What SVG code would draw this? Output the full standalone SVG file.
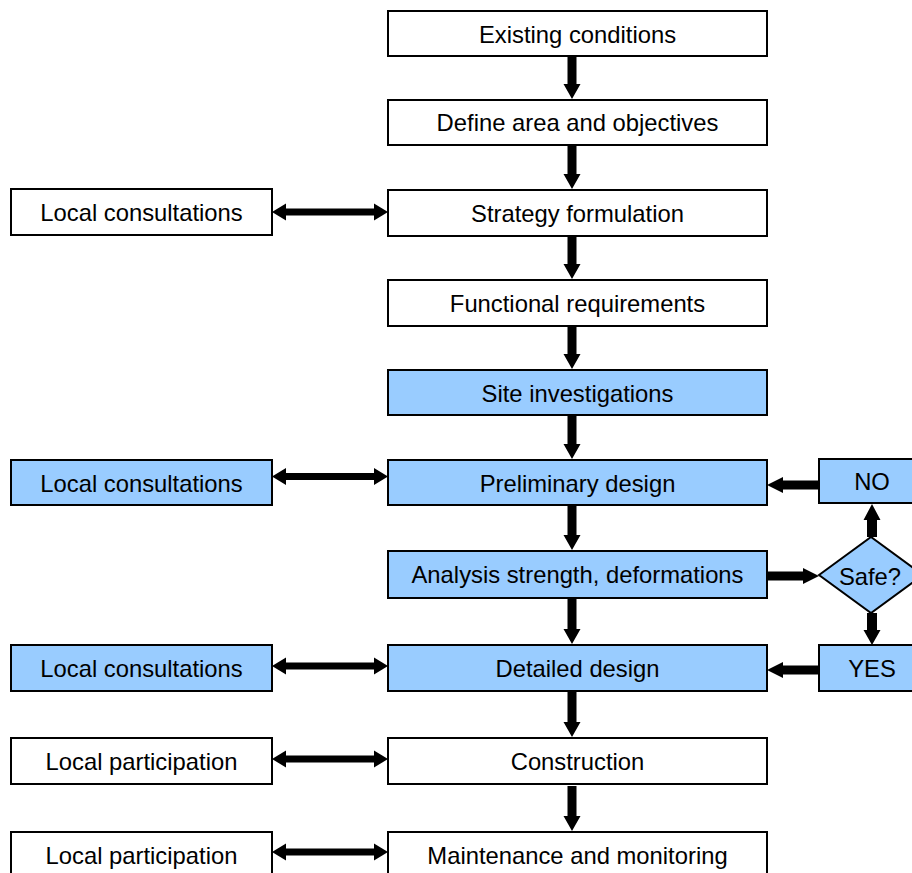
<svg xmlns="http://www.w3.org/2000/svg" width="912" height="873" viewBox="0 0 912 873">
<style>
.box{fill:#ffffff;stroke:#000000;stroke-width:2}
.blue{fill:#99ccff;stroke:#000000;stroke-width:2}
text{font-family:"Liberation Sans",Arial,sans-serif;font-size:23.8px;fill:#000000;text-anchor:middle}
.arr{fill:#000000;stroke:none}
</style>
<rect width="912" height="873" fill="#ffffff"/>
<g id="connectors">
  <polygon class="arr" points="567.5,57 576.5,57 576.5,84 580.5,84 572,99 563.5,84 567.5,84"/>
  <polygon class="arr" points="567.5,146 576.5,146 576.5,174 580.5,174 572,189 563.5,174 567.5,174"/>
  <polygon class="arr" points="567.5,237 576.5,237 576.5,264 580.5,264 572,279 563.5,264 567.5,264"/>
  <polygon class="arr" points="567.5,327 576.5,327 576.5,354 580.5,354 572,369 563.5,354 567.5,354"/>
  <polygon class="arr" points="567.5,416 576.5,416 576.5,444 580.5,444 572,459 563.5,444 567.5,444"/>
  <polygon class="arr" points="567.5,506 576.5,506 576.5,535 580.5,535 572,550 563.5,535 567.5,535"/>
  <polygon class="arr" points="567.5,599 576.5,599 576.5,629 580.5,629 572,644 563.5,629 567.5,629"/>
  <polygon class="arr" points="567.5,692 576.5,692 576.5,722 580.5,722 572,737 563.5,722 567.5,722"/>
  <polygon class="arr" points="567.5,786 576.5,786 576.5,816 580.5,816 572,831 563.5,816 567.5,816"/>
  <polygon class="arr" points="272,212 286,203.5 286,208.5 374,208.5 374,203.5 388,212 374,220.5 374,215.5 286,215.5 286,220.5"/>
  <polygon class="arr" points="272,476.5 286,468 286,473 374,473 374,468 388,476.5 374,485 374,480 286,480 286,485"/>
  <polygon class="arr" points="272,666 286,657.5 286,662.5 374,662.5 374,657.5 388,666 374,674.5 374,669.5 286,669.5 286,674.5"/>
  <polygon class="arr" points="272,759 286,750.5 286,755.5 374,755.5 374,750.5 388,759 374,767.5 374,762.5 286,762.5 286,767.5"/>
  <polygon class="arr" points="272,852 286,843.5 286,848.5 374,848.5 374,843.5 388,852 374,860.5 374,855.5 286,855.5 286,860.5"/>
  <polygon class="arr" points="819,480.5 783,480.5 783,477 767,485 783,493 783,489.5 819,489.5"/>
  <polygon class="arr" points="768,571.5 803,571.5 803,568 819,576 803,584 803,580.5 768,580.5"/>
  <polygon class="arr" points="867,537 867,520 863.5,520 872,504 880.5,520 877,520 877,537"/>
  <polygon class="arr" points="867,613 867,630 863.5,630 872,645 880.5,630 877,630 877,613"/>
  <polygon class="arr" points="819,665.5 783,665.5 783,662 767,670 783,678 783,674.5 819,674.5"/>
</g>
<g id="n1"><rect class="box" x="388" y="11" width="379" height="45"/><text x="577.5" y="43">Existing conditions</text></g>
<g id="n2"><rect class="box" x="388" y="100" width="379" height="45"/><text x="577.5" y="131">Define area and objectives</text></g>
<g id="n3"><rect class="box" x="388" y="190" width="379" height="46"/><text x="577.5" y="222">Strategy formulation</text></g>
<g id="n4"><rect class="box" x="388" y="280" width="379" height="46"/><text x="577.5" y="312">Functional requirements</text></g>
<g id="n5"><rect class="blue" x="388" y="370" width="379" height="45"/><text x="577.5" y="402">Site investigations</text></g>
<g id="n6"><rect class="blue" x="388" y="460" width="379" height="45"/><text x="577.5" y="492">Preliminary design</text></g>
<g id="n7"><rect class="blue" x="388" y="551" width="379" height="47"/><text x="577.5" y="583">Analysis strength, deformations</text></g>
<g id="n8"><rect class="blue" x="388" y="645" width="379" height="46"/><text x="577.5" y="677">Detailed design</text></g>
<g id="n9"><rect class="box" x="388" y="738" width="379" height="46"/><text x="577.5" y="770">Construction</text></g>
<g id="n10"><rect class="box" x="388" y="832" width="379" height="46"/><text x="577.5" y="864">Maintenance and monitoring</text></g>
<g id="l3"><rect class="box" x="11" y="189" width="261" height="46"/><text x="141.5" y="221">Local consultations</text></g>
<g id="l6"><rect class="blue" x="11" y="460" width="261" height="45"/><text x="141.5" y="492">Local consultations</text></g>
<g id="l8"><rect class="blue" x="11" y="645" width="261" height="46"/><text x="141.5" y="677">Local consultations</text></g>
<g id="l9"><rect class="box" x="11" y="738" width="261" height="46"/><text x="141.5" y="770">Local participation</text></g>
<g id="l10"><rect class="box" x="11" y="832" width="261" height="46"/><text x="141.5" y="864">Local participation</text></g>
<g id="no"><rect class="blue" x="819" y="459" width="106" height="44"/><text x="872" y="490">NO</text></g>
<g id="safe"><polygon class="blue" points="819,575 871,537 923,575 871,613"/><text x="870" y="585">Safe?</text></g>
<g id="yes"><rect class="blue" x="819" y="645" width="106" height="46"/><text x="872" y="677">YES</text></g>
</svg>
